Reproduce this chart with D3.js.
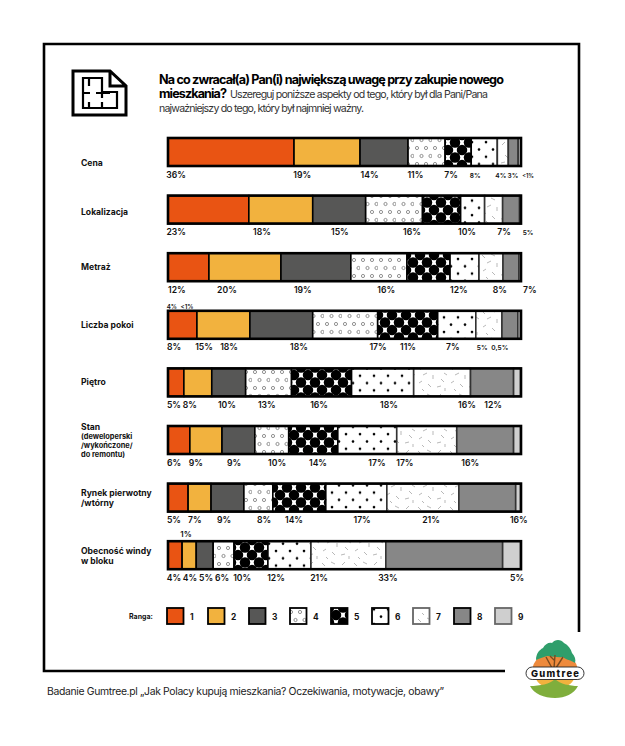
<!DOCTYPE html>
<html lang="pl"><head><meta charset="utf-8">
<script src="https://cdn.jsdelivr.net/npm/d3@7"></script>
<style>html,body{margin:0;padding:0;background:#fff}svg{display:block}text{font-family:Inter,"Liberation Sans",sans-serif}</style>
</head><body><div id="c"></div>
<script>
const categories=["Cena","Lokalizacja","Metraż","Liczba pokoi","Piętro","Stan","Rynek pierwotny","Obecność windy"];
const categoryLines=[["Cena"],["Lokalizacja"],["Metraż"],["Liczba pokoi"],["Piętro"],["Stan","(deweloperski","/wykończone/","do remontu)"],["Rynek pierwotny","/wtórny"],["Obecność windy","w bloku"]];
const ranks=["1","2","3","4","5","6","7","8","9"];
// Share of each bar per rank
const rank1=[35.7,22.9,11.6,8.2,4.5,6.2,5.7,4.0];
const rank2=[18.7,18.1,20.4,15.0,7.9,9.1,6.5,4.0];
const rank3=[13.6,15.0,19.8,17.8,9.6,9.3,9.3,4.8];
const rank4=[10.5,16.1,15.9,18.4,13.0,9.6,8.2,5.9];
const rank5=[7.4,10.8,12.2,17.0,17.0,13.9,15.0,9.6];
const rank6=[7.4,6.8,8.2,10.8,17.6,16.7,17.3,12.2];
const rank7=[3.1,5.1,6.8,7.4,16.1,17.0,20.4,21.2];
const rank8=[2.8,4.8,4.5,4.5,12.2,16.1,16.1,33.1];
const rank9=[0.8,0.3,0.6,0.8,2.0,2.0,1.4,5.1];
const rankSeries=[rank1,rank2,rank3,rank4,rank5,rank6,rank7,rank8,rank9];
// Printed labels under each bar
const labelsBelow=[
 ["36%","19%","14%","11%","7%","8%","4%","3%","<1%"],
 ["23%","18%","15%","16%","10%","7%","5%"],
 ["12%","20%","19%","16%","12%","8%","7%"],
 ["8%","15%","18%","18%","17%","11%","7%","5%","0,5%"],
 ["5%","8%","10%","13%","16%","18%","16%","12%"],
 ["6%","9%","9%","10%","14%","17%","17%","16%"],
 ["5%","7%","9%","8%","14%","17%","21%","16%"],
 ["4%","4%","5%","6%","10%","12%","21%","33%","5%"]];
const labelsAbove=[[],[],[],["4%","<1%"],[],[],[],["1%"]];
// Where each printed label sits along the 0-100 axis
const belowAt=[
 [2.3,38,57.1,70.1,80.2,87,94.3,97.7,102],
 [2.3,26.6,48.7,69.1,84.7,95.2,102],
 [2.5,16.7,38.2,61.8,82.4,94,102.5],
 [1.7,10.2,17.3,37.1,59.5,68,80.7,89,94],
 [1.7,6.2,16.7,28,42.8,62.6,84.7,92.1],
 [1.7,7.9,18.7,30.9,42.5,59.2,67.1,85.6],
 [1.7,7.6,15.9,27.2,35.7,55,74.5,99.4],
 [1.7,6.2,10.8,15.3,21,30.6,42.8,62.3,98.9]];
const aboveAt=[[],[],[],[1.1,5.4],[],[],[],[5.1]];
const smallLabels=new Set(["0:5","0:6","0:7","0:8","1:6","3:7","3:8"]);
const swatchFills=["#E95413","#F2B23E","#575756","url(#p4)","url(#p5)","url(#p6)","url(#p7)","#878787","#CFCFCF"];

const W=625,H=746;
const svg=d3.select("#c").append("svg").attr("width",W).attr("height",H).attr("viewBox",`0 0 ${W} ${H}`);
const defs=svg.append("defs");
function pat(id,w,h){const p=defs.append("pattern").attr("id",id).attr("patternUnits","userSpaceOnUse").attr("width",w).attr("height",h);p.append("rect").attr("width",w).attr("height",h).attr("fill","#fff");return p;}
const p4=pat("p4",18,16);
[[3,4],[12,4],[7.5,12],[16.5,12]].forEach(d=>p4.append("circle").attr("cx",d[0]).attr("cy",d[1]).attr("r",1.6).attr("fill","none").attr("stroke","#666").attr("stroke-width",.7));
const p5=pat("p5",14,15);
[[0,0],[14,0],[0,15],[14,15],[7,7.5]].forEach(d=>p5.append("circle").attr("cx",d[0]).attr("cy",d[1]).attr("r",5.25).attr("fill","#000"));
const p6=pat("p6",14,14.6);
[[3,3.5],[10,10.8]].forEach(d=>p6.append("circle").attr("cx",d[0]).attr("cy",d[1]).attr("r",1.3).attr("fill","#000"));
const p7=pat("p7",32,28);
[[2,3,5,6],[11,2,15,4],[22,5,25,2],[28,9,31,11],[7,11,11,9],[17,11,17,15],[25,15,28,18],[3,19,6,17],[12,20,15,23],[21,23,25,22],[29,24,29,27],[6,25,8,27]].forEach(d=>p7.append("line").attr("x1",d[0]).attr("y1",d[1]).attr("x2",d[2]).attr("y2",d[3]).attr("stroke","#888").attr("stroke-width",.6));

// frame
svg.append("path").attr("d","M505 671H44V44H579V632").attr("fill","none").attr("stroke","#000").attr("stroke-width",2.6);

// icon
const ic=svg.append("g").attr("fill","none").attr("stroke","#000");
ic.append("path").attr("d","M73 71H110L126 86V115H73Z M110 71V86H126").attr("stroke-width",3);
ic.append("path").attr("d","M83 78H102V92H117V108H83Z M89 78V86 M83 93H90 M96 93H110 M102 92V98 M89 102V108 M102 102V108").attr("stroke-width",2.2);

// title
const title=svg.append("g");
function t(x,y,s,size,weight,fill,len){const e=title.append("text").attr("x",x).attr("y",y).attr("font-size",size).attr("font-weight",weight).attr("fill",fill).text(s);if(len)e.attr("textLength",len).attr("lengthAdjust","spacing");return e;}
t(159,83.5,"Na co zwracał(a) Pan(i) największą uwagę przy zakupie nowego",12.6,700,"#000",345);
t(159,98,"mieszkania?",12.6,700,"#000",68);
t(230,98,"Uszereguj poniższe aspekty od tego, który był dla Pani/Pana",10.6,400,"#333",258);
t(159,112,"najważniejszy do tego, który był najmniej ważny.",10.6,400,"#333",205);

// scales
const x=d3.scaleLinear().domain([0,100]).range([168,521]);
const y=d3.scalePoint().domain(categories).range([138,541.2]);
const barH=28;

const rows=svg.selectAll("g.row").data(categories).join("g").attr("class","row");
rows.each(function(cat,i){
  const g=d3.select(this),top=y(cat);
  let cum=0;
  const segs=rankSeries.map((s,r)=>{const d={r,x0:cum,x1:cum+s[i]};cum=d.x1;return d;});
  g.selectAll("rect.seg").data(segs).join("rect").attr("class","seg")
    .attr("x",d=>x(d.x0)).attr("y",top).attr("width",d=>x(d.x1)-x(d.x0)).attr("height",barH)
    .attr("fill",d=>swatchFills[d.r]).attr("stroke",d=>d.r>=6?"#333":"#000").attr("stroke-width",1.6);
  g.append("rect").attr("x",x(0)).attr("y",top).attr("width",x(100)-x(0)).attr("height",barH).attr("fill","none").attr("stroke","#000").attr("stroke-width",2.6);
  g.selectAll("text.below").data(labelsBelow[i]).join("text").attr("class","below")
    .attr("x",(d,j)=>x(belowAt[i][j])).attr("y",top+barH+11.5).attr("text-anchor","middle")
    .attr("font-size",(d,j)=>smallLabels.has(i+":"+j)?(i==0&&j==8?5.6:6.6):8.6).attr("font-weight",600).attr("fill","#111").text(d=>d);
  g.selectAll("text.above").data(labelsAbove[i]).join("text").attr("class","above")
    .attr("x",(d,j)=>x(aboveAt[i][j])).attr("y",top-(i==7?4.5:2)).attr("text-anchor","middle")
    .attr("font-size",i==7?8:6.2).attr("font-weight",600).attr("fill","#111").text(d=>d);
  const lines=categoryLines[i];
  const yy=[[163],[212],[267],[325],[382],[427,436,445,454],[493,503],[551,561]][i];
  lines.forEach((s,k)=>{
    g.append("text").attr("x",81).attr("y",yy[k]+3).attr("font-size",(i==5&&k>0)?7.4:8.6).attr("font-weight",700).attr("fill","#111").text(s);
  });
});

// legend
const lx=d3.scalePoint().domain(ranks).range([167,495]);
svg.append("text").attr("x",129).attr("y",619).attr("font-size",7).attr("font-weight",700).attr("fill","#111").text("Ranga:");
const lg=svg.selectAll("g.lg").data(ranks).join("g").attr("class","lg");
lg.append("rect").attr("x",d=>lx(d)).attr("y",608).attr("width",16.5).attr("height",16).attr("fill",(d,i)=>swatchFills[i]).attr("stroke",(d,i)=>i>=6&&i!=7?"#666":"#000").attr("stroke-width",1.8);
lg.append("text").attr("x",d=>lx(d)+23).attr("y",620).attr("font-size",8.4).attr("font-weight",700).attr("fill","#111").text(d=>d);

// footer
svg.append("text").attr("x",47).attr("y",695).attr("font-size",10.4).attr("fill","#222").attr("textLength",397).attr("lengthAdjust","spacing").text("Badanie Gumtree.pl „Jak Polacy kupują mieszkania? Oczekiwania, motywacje, obawy”");

// logo
const logo=svg.append("g");
logo.append("path").attr("d","M532 672A23 21 0 0 1 578 672Z").attr("fill","#EE8A3C");
logo.append("path").attr("d","M536 678H574C573 684 566 688 555 688C544 688 537 684 536 678Z").attr("fill","#F2B23E");
logo.append("path").attr("d","M530 686C540 686 550 684 555 679C560 684 570 686 578 686C574 694 565 698 555 698C544 698 534 694 530 686Z").attr("fill","#7FAE3C");
logo.append("path").attr("d","M536 660C536 654 539 650 543 648C545 644 549 642 552 643C555 639 561 639 564 643C568 645 571 649 572 653C575 656 576 660 575 663C571 660 566 660 563 657C558 658 552 656 547 656C543 657 539 659 536 660Z").attr("fill","#2F9E6B");
logo.append("path").attr("d","M554 668L555 655M556 668L563 657M552 668L546 657M555 661L550 656").attr("stroke","#7a4a1e").attr("stroke-width",1.4).attr("fill","none");
logo.append("rect").attr("x",526).attr("y",667).attr("width",58).attr("height",12.5).attr("rx",6.2).attr("fill","#fff").attr("stroke","#222").attr("stroke-width",.9);
logo.append("text").attr("x",555).attr("y",676.7).attr("text-anchor","middle").attr("font-size",9.4).attr("font-weight",800).attr("font-family","'DejaVu Sans',sans-serif").attr("textLength",48).attr("fill","#111").text("Gumtree");
</script></body></html>
